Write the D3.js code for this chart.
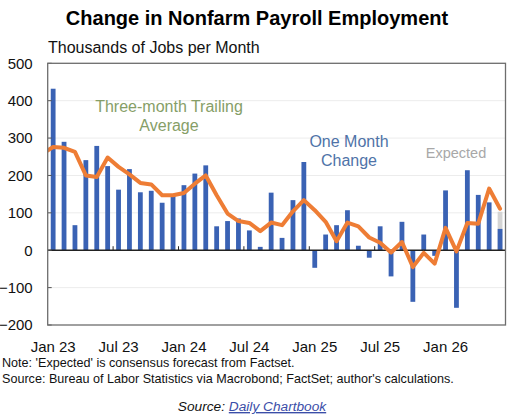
<!DOCTYPE html>
<html><head><meta charset="utf-8">
<script src="https://cdn.jsdelivr.net/npm/d3@7"></script>
<style>
html,body{margin:0;padding:0;background:#fff;}
svg{display:block;font-family:"Liberation Sans",Arial,sans-serif;}
</style></head>
<body><svg id="c" width="508" height="416"></svg>
<script>
// Month categories Jan 2023 .. Jun 2026
const months = d3.range(42).map(i => new Date(2023, i, 1));
const tickLabels = ["Jan 23","Jul 23","Jan 24","Jul 24","Jan 25","Jul 25","Jan 26"];
// One-month change (thousands)
const monthly = [432,290,67,241,279,225,162,217,155,159,127,150,174,205,227,64,78,85,53,9,
                 154,33,134,236,-47,42,67,107,12,-20,64,-70,76,-138,42,-15,160,-154,214,148,128,57];
// Expected (consensus) for latest month
const expected = [{i:41, v:103}];
// Three-month trailing average; first value is Dec 22 (clipped at plot edge)
const avgPrior = 258;
const avg3 = [276,274,263,200,196,248,223,203,180,176,147,147,153,178,200,147,98,78,73,51,
              74,67,104,134,107,76,24,74,64,34,20,-6,22,-45,-7,-36,60,-3,73,71,165,111];
const yTicks = [-200,-100,0,100,200,300,400,500];

const svg = d3.select("#c");
const L = 47.7, R = 505.5, T = 63.3, B = 325;
const x = d3.scaleBand().domain(d3.range(months.length)).range([L, R]).padding(0);
const xc = i => x(i) + x.bandwidth()/2;
const y = d3.scaleLinear().domain([-200, 500]).range([B, T]);

// title
svg.append("text").attr("x", 257).attr("y", 25).attr("text-anchor","middle")
  .attr("font-size", 20).attr("font-weight","bold").attr("fill","#000")
  .text("Change in Nonfarm Payroll Employment");
svg.append("text").attr("x", 48).attr("y", 53).attr("font-size", 16).attr("fill","#111")
  .text("Thousands of Jobs per Month");

// gridlines
svg.append("g").selectAll("line").data(yTicks.filter(d => d !== 0 && d !== -200 && d !== 500))
  .join("line").attr("x1", L).attr("x2", R).attr("y1", d => y(d)).attr("y2", d => y(d))
  .attr("stroke", "#ececec").attr("stroke-width", 1);

// y axis
const ya = svg.append("g").attr("transform", `translate(${L},0)`)
  .call(d3.axisLeft(y).tickValues(yTicks).tickSize(0).tickPadding(15).tickFormat(d3.format("d")));
ya.select(".domain").remove();
ya.selectAll("text").attr("font-size", 15).attr("font-family","Liberation Sans, Arial, sans-serif").attr("fill","#111");

// x axis labels
const labelIdx = tickLabels.map((t, k) => k * 6);
const xa = svg.append("g").attr("transform", `translate(0,${B})`)
  .call(d3.axisBottom(x).tickValues(labelIdx).tickSize(0).tickPadding(16)
    .tickFormat(i => tickLabels[labelIdx.indexOf(i)]));
xa.select(".domain").remove();
xa.selectAll("text").attr("font-size", 15).attr("font-family","Liberation Sans, Arial, sans-serif").attr("fill","#111");

// expected bar
const bw = 4.8;
svg.append("g").selectAll("rect").data(expected).join("rect")
  .attr("x", d => xc(d.i) - bw/2).attr("width", bw)
  .attr("y", d => y(d.v)).attr("height", d => y(0) - y(d.v))
  .attr("fill", "#d4d4d4");

// monthly bars
svg.append("g").selectAll("rect").data(monthly).join("rect")
  .attr("x", (d, i) => xc(i) - bw/2).attr("width", bw)
  .attr("y", d => y(Math.max(0, d))).attr("height", d => Math.abs(y(d) - y(0)))
  .attr("fill", "#3a62b4");

// zero line + ticks at category boundaries
svg.append("line").attr("x1", L).attr("x2", R).attr("y1", y(0)).attr("y2", y(0))
  .attr("stroke", "#222").attr("stroke-width", 1.3);
svg.append("g").selectAll("line").data(labelIdx.slice(1)).join("line")
  .attr("x1", i => x(i)).attr("x2", i => x(i)).attr("y1", y(0)).attr("y2", y(0) - 4)
  .attr("stroke", "#222").attr("stroke-width", 1);

// y-axis tick marks
svg.append("g").selectAll("line").data(yTicks).join("line")
  .attr("x1", L).attr("x2", L + 4).attr("y1", d => y(d)).attr("y2", d => y(d))
  .attr("stroke", "#555").attr("stroke-width", 1);

// average line (clipped)
svg.append("clipPath").attr("id","pc").append("rect")
  .attr("x", L).attr("y", T).attr("width", R - L).attr("height", B - T);
const pts = [[-1, avgPrior]].concat(avg3.map((v, i) => [i, v]));
svg.append("path").datum(pts).attr("clip-path","url(#pc)")
  .attr("d", d3.line().x(d => xc(0) + d[0] * x.bandwidth()).y(d => y(d[1])))
  .attr("fill","none").attr("stroke","#ee7d35").attr("stroke-width", 4)
  .attr("stroke-linejoin","round").attr("stroke-linecap","round");

// plot border
svg.append("rect").attr("x", L).attr("y", T).attr("width", R - L).attr("height", B - T)
  .attr("fill","none").attr("stroke","#6d6d6d").attr("stroke-width", 1.3);

// annotations
const ann = svg.append("g").attr("text-anchor","middle").attr("font-size", 16);
ann.append("text").attr("x", 169).attr("y", 112).attr("fill","#869e67").text("Three-month Trailing");
ann.append("text").attr("x", 169).attr("y", 131).attr("fill","#869e67").text("Average");
ann.append("text").attr("x", 349).attr("y", 147).attr("fill","#4f73a8").text("One Month");
ann.append("text").attr("x", 349).attr("y", 166).attr("fill","#4f73a8").text("Change");
ann.append("text").attr("x", 456).attr("y", 158).attr("fill","#a8a8a8").attr("font-size", 14.5).text("Expected");

// notes
svg.append("text").attr("x", 2).attr("y", 367).attr("font-size", 12.6).attr("fill","#111")
  .text("Note: 'Expected' is consensus forecast from Factset.");
svg.append("text").attr("x", 2).attr("y", 383).attr("font-size", 12.6).attr("fill","#111")
  .text("Source: Bureau of Labor Statistics via Macrobond; FactSet; author's calculations.");
const src = svg.append("text").attr("x", 252).attr("y", 411).attr("text-anchor","middle")
  .attr("font-size", 13.7).attr("font-style","italic").attr("fill","#111");
src.append("tspan").text("Source: ");
src.append("tspan").attr("fill","#3b4ea8").attr("text-decoration","underline").text("Daily Chartbook");
</script></body></html>
